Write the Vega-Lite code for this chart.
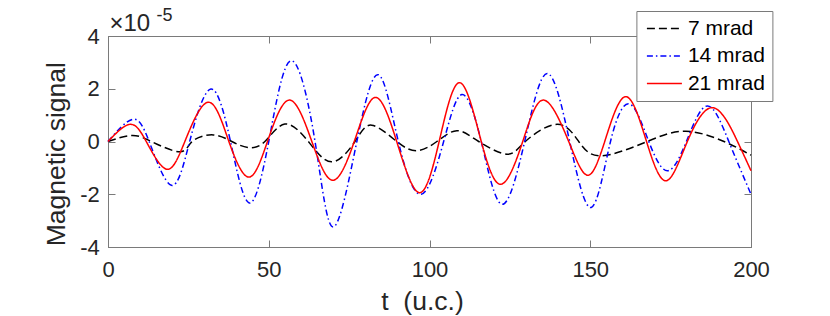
{
  "$schema": "https://vega.github.io/schema/vega-lite/v6.json",
  "width": 643,
  "height": 211,
  "autosize": "none",
  "padding": {"left": 108, "top": 36, "right": 79, "bottom": 69},
  "background": "white",
  "config": {
    "font": "Liberation Sans",
    "view": {"stroke": "#7a7a7a", "strokeWidth": 1},
    "axis": {
      "grid": false,
      "domainColor": "#7a7a7a",
      "tickColor": "#7a7a7a",
      "tickSize": -7,
      "labelFlush": false,
      "labelOverlap": false,
      "labelFont": "Liberation Sans",
      "labelFontSize": 22,
      "labelColor": "#262626",
      "titleFont": "Liberation Sans",
      "titleFontWeight": "normal",
      "titleColor": "#262626"
    }
  },
  "datasets": {
    "curves": [
      {"s": "7 mrad", "t": 0, "v": 0},
      {"s": "7 mrad", "t": 7.3, "v": 0.23},
      {"s": "7 mrad", "t": 13.5, "v": 0},
      {"s": "7 mrad", "t": 22.3, "v": -0.39},
      {"s": "7 mrad", "t": 26.2, "v": 0},
      {"s": "7 mrad", "t": 32.7, "v": 0.25},
      {"s": "7 mrad", "t": 38.5, "v": 0},
      {"s": "7 mrad", "t": 43.6, "v": -0.23},
      {"s": "7 mrad", "t": 48.8, "v": 0},
      {"s": "7 mrad", "t": 55.0, "v": 0.66},
      {"s": "7 mrad", "t": 62.3, "v": 0},
      {"s": "7 mrad", "t": 69.6, "v": -0.77},
      {"s": "7 mrad", "t": 76.8, "v": 0},
      {"s": "7 mrad", "t": 82.0, "v": 0.62},
      {"s": "7 mrad", "t": 89.8, "v": 0},
      {"s": "7 mrad", "t": 96.1, "v": -0.35},
      {"s": "7 mrad", "t": 102.3, "v": 0},
      {"s": "7 mrad", "t": 108.5, "v": 0.41},
      {"s": "7 mrad", "t": 115.3, "v": 0},
      {"s": "7 mrad", "t": 124.1, "v": -0.48},
      {"s": "7 mrad", "t": 129.8, "v": 0},
      {"s": "7 mrad", "t": 139.7, "v": 0.65},
      {"s": "7 mrad", "t": 146.4, "v": 0},
      {"s": "7 mrad", "t": 153.5, "v": -0.54},
      {"s": "7 mrad", "t": 167.7, "v": 0},
      {"s": "7 mrad", "t": 179.7, "v": 0.39},
      {"s": "7 mrad", "t": 191.6, "v": 0},
      {"s": "7 mrad", "t": 200, "v": -0.52},
      {"s": "14 mrad", "t": 0, "v": 0},
      {"s": "14 mrad", "t": 7.6, "v": 0.84},
      {"s": "14 mrad", "t": 12.8, "v": 0},
      {"s": "14 mrad", "t": 19.7, "v": -1.66},
      {"s": "14 mrad", "t": 25.4, "v": 0},
      {"s": "14 mrad", "t": 32.0, "v": 1.99},
      {"s": "14 mrad", "t": 38.1, "v": 0},
      {"s": "14 mrad", "t": 43.9, "v": -2.33},
      {"s": "14 mrad", "t": 50.0, "v": 0},
      {"s": "14 mrad", "t": 56.9, "v": 3.06},
      {"s": "14 mrad", "t": 64.4, "v": 0},
      {"s": "14 mrad", "t": 70.1, "v": -3.24},
      {"s": "14 mrad", "t": 77.4, "v": 0},
      {"s": "14 mrad", "t": 84.1, "v": 2.53},
      {"s": "14 mrad", "t": 90.3, "v": 0},
      {"s": "14 mrad", "t": 97.4, "v": -2.0},
      {"s": "14 mrad", "t": 104.4, "v": 0},
      {"s": "14 mrad", "t": 110.1, "v": 1.78},
      {"s": "14 mrad", "t": 116.1, "v": 0},
      {"s": "14 mrad", "t": 122.5, "v": -2.38},
      {"s": "14 mrad", "t": 129.6, "v": 0},
      {"s": "14 mrad", "t": 136.6, "v": 2.58},
      {"s": "14 mrad", "t": 143.6, "v": 0},
      {"s": "14 mrad", "t": 150.3, "v": -2.5},
      {"s": "14 mrad", "t": 156.3, "v": 0},
      {"s": "14 mrad", "t": 162.3, "v": 1.42},
      {"s": "14 mrad", "t": 168.2, "v": 0},
      {"s": "14 mrad", "t": 174.0, "v": -1.11},
      {"s": "14 mrad", "t": 179.9, "v": 0},
      {"s": "14 mrad", "t": 186.4, "v": 1.35},
      {"s": "14 mrad", "t": 193.1, "v": 0},
      {"s": "14 mrad", "t": 200, "v": -2.0},
      {"s": "21 mrad", "t": 0, "v": 0},
      {"s": "21 mrad", "t": 6.8, "v": 0.65},
      {"s": "21 mrad", "t": 11.9, "v": 0},
      {"s": "21 mrad", "t": 18.2, "v": -1.05},
      {"s": "21 mrad", "t": 23.9, "v": 0},
      {"s": "21 mrad", "t": 31.2, "v": 1.49},
      {"s": "21 mrad", "t": 37.6, "v": 0},
      {"s": "21 mrad", "t": 43.8, "v": -1.35},
      {"s": "21 mrad", "t": 49.6, "v": 0},
      {"s": "21 mrad", "t": 56.4, "v": 1.57},
      {"s": "21 mrad", "t": 63.4, "v": 0},
      {"s": "21 mrad", "t": 69.9, "v": -1.47},
      {"s": "21 mrad", "t": 76.6, "v": 0},
      {"s": "21 mrad", "t": 83.1, "v": 1.67},
      {"s": "21 mrad", "t": 89.8, "v": 0},
      {"s": "21 mrad", "t": 96.8, "v": -1.94},
      {"s": "21 mrad", "t": 103.0, "v": 0},
      {"s": "21 mrad", "t": 109.4, "v": 2.23},
      {"s": "21 mrad", "t": 116.1, "v": 0},
      {"s": "21 mrad", "t": 122.3, "v": -1.62},
      {"s": "21 mrad", "t": 129.0, "v": 0},
      {"s": "21 mrad", "t": 135.5, "v": 1.57},
      {"s": "21 mrad", "t": 143.3, "v": 0},
      {"s": "21 mrad", "t": 149.2, "v": -1.28},
      {"s": "21 mrad", "t": 154.5, "v": 0},
      {"s": "21 mrad", "t": 161.0, "v": 1.70},
      {"s": "21 mrad", "t": 167.5, "v": 0},
      {"s": "21 mrad", "t": 173.6, "v": -1.49},
      {"s": "21 mrad", "t": 180.2, "v": 0},
      {"s": "21 mrad", "t": 188.2, "v": 1.28},
      {"s": "21 mrad", "t": 195.8, "v": 0},
      {"s": "21 mrad", "t": 200, "v": -1.11}
    ]
  },
  "layer": [
    {
      "mark": {"type": "rule", "color": "#000000", "strokeDash": [1, 2], "strokeWidth": 0.8},
      "encoding": {
        "x": {
          "datum": 0,
          "type": "quantitative",
          "scale": {"domain": [0, 200], "nice": false, "zero": false},
          "axis": {
            "orient": "top",
            "labels": false,
            "values": [0, 50, 100, 150, 200],
            "title": "×10",
            "titleX": 1,
            "titleY": -5.3,
            "titleAlign": "left",
            "titleBaseline": "alphabetic",
            "titleAngle": 0,
            "titleFontSize": 24
          }
        },
        "x2": {"datum": 200},
        "y": {
          "datum": 0,
          "type": "quantitative",
          "scale": {"domain": [-4, 4], "nice": false},
          "axis": {
            "orient": "right",
            "labels": false,
            "values": [-4, -2, 0, 2, 4],
            "title": "-5",
            "titleAngle": 0,
            "titleX": -595,
            "titleY": -15.5,
            "titleAlign": "left",
            "titleBaseline": "alphabetic",
            "titleFontSize": 18
          }
        }
      }
    },
    {
      "data": {"name": "curves"},
      "mark": {"type": "line", "interpolate": "natural", "strokeWidth": 1.5},
      "encoding": {
        "x": {
          "field": "t",
          "type": "quantitative",
          "scale": {"domain": [0, 200], "nice": false, "zero": false},
          "axis": {
            "orient": "bottom",
            "values": [0, 50, 100, 150, 200],
            "labelPadding": 19.3,
            "title": "t\u00a0\u00a0(u.c.)",
            "titleFontSize": 26.5,
            "titleX": 314,
            "titleY": 62,
            "titleAlign": "center",
            "titleBaseline": "alphabetic"
          }
        },
        "y": {
          "field": "v",
          "type": "quantitative",
          "scale": {"domain": [-4, 4], "nice": false},
          "axis": {
            "orient": "left",
            "values": [-4, -2, 0, 2, 4],
            "labelPadding": 15.8,
            "labelExpr": "datum.value < 0 ? '-' + abs(datum.value) : '' + datum.value",
            "title": "Magnetic signal",
            "titleFontSize": 26.5,
            "titleAngle": -90,
            "titleX": -43.3,
            "titleY": 117.7,
            "titleAlign": "center",
            "titleBaseline": "alphabetic"
          }
        },
        "color": {
          "field": "s",
          "type": "nominal",
          "scale": {"domain": ["7 mrad", "14 mrad", "21 mrad"], "range": ["#000000", "#0000ff", "#ff0000"]},
          "legend": {
            "orient": "none",
            "legendX": 528.4,
            "legendY": -25,
            "title": null,
            "symbolType": "M-1,0H4",
            "symbolSize": 196,
            "symbolStrokeWidth": 1.5,
            "labelFontSize": 21,
            "labelFont": "Liberation Sans",
            "labelColor": "#000000",
            "labelOffset": 23.5,
            "padding": 7,
            "rowPadding": 5.5,
            "fillColor": "#ffffff",
            "strokeColor": "#7a7a7a"
          }
        },
        "strokeDash": {
          "field": "s",
          "type": "nominal",
          "scale": {"domain": ["7 mrad", "14 mrad", "21 mrad"], "range": [[8, 4], [6, 3, 1.5, 3], [1, 0]]},
          "legend": {
            "orient": "none",
            "legendX": 528.4,
            "legendY": -25,
            "title": null,
            "symbolType": "M-1,0H4",
            "symbolSize": 196,
            "symbolStrokeWidth": 1.5,
            "labelFontSize": 21,
            "labelFont": "Liberation Sans",
            "labelColor": "#000000",
            "labelOffset": 23.5,
            "padding": 7,
            "rowPadding": 5.5,
            "fillColor": "#ffffff",
            "strokeColor": "#7a7a7a"
          }
        }
      }
    }
  ],
  "resolve": {"axis": {"x": "independent", "y": "independent"}}
}
